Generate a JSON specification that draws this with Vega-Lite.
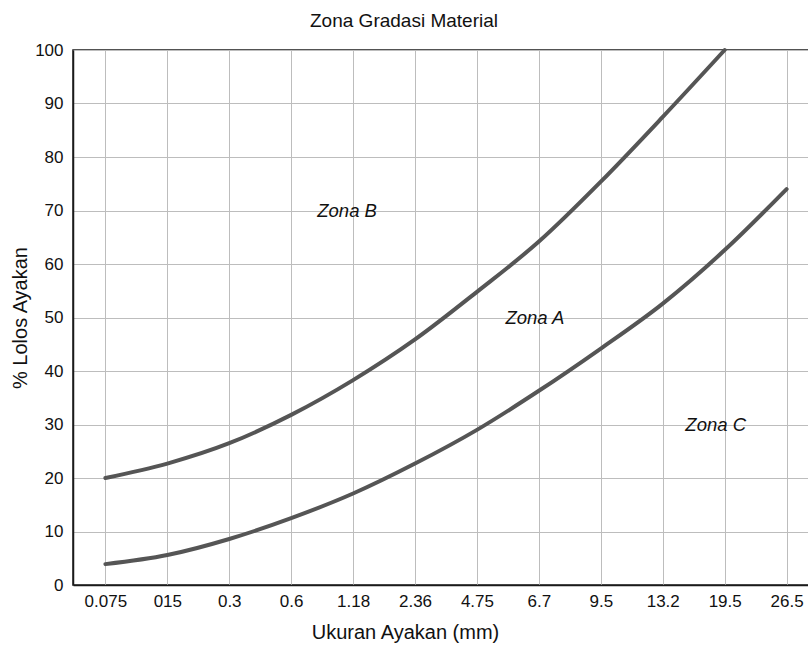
{
  "$schema": "https://vega.github.io/schema/vega-lite/v6.json",
  "width": 746,
  "height": 535,
  "autosize": {"type": "none"},
  "padding": {"left": 73, "top": 50, "right": 0, "bottom": 65},
  "background": "white",
  "config": {
    "font": "Liberation Sans",
    "view": {"stroke": "#1a1a1a", "strokeWidth": 1.5},
    "axis": {"labelFont": "Liberation Sans", "titleFont": "Liberation Sans", "labelColor": "#111", "titleColor": "#111", "titleFontWeight": "normal", "gridColor": "#bdbdbd", "gridWidth": 1, "ticks": false, "domainColor": "#1a1a1a", "domainWidth": 1.5}
  },
  "title": {"text": "Zona Gradasi Material", "fontSize": 19, "fontWeight": "normal", "font": "Liberation Sans", "color": "#111", "anchor": "middle", "dx": -42, "offset": 10},
  "datasets": {
    "curves": [
      {"ukuran": "0.075", "lolos": 20.0, "batas": "atas"},
      {"ukuran": "015", "lolos": 22.7, "batas": "atas"},
      {"ukuran": "0.3", "lolos": 26.5, "batas": "atas"},
      {"ukuran": "0.6", "lolos": 31.8, "batas": "atas"},
      {"ukuran": "1.18", "lolos": 38.3, "batas": "atas"},
      {"ukuran": "2.36", "lolos": 45.9, "batas": "atas"},
      {"ukuran": "4.75", "lolos": 54.8, "batas": "atas"},
      {"ukuran": "6.7", "lolos": 64.2, "batas": "atas"},
      {"ukuran": "9.5", "lolos": 75.4, "batas": "atas"},
      {"ukuran": "13.2", "lolos": 87.5, "batas": "atas"},
      {"ukuran": "19.5", "lolos": 100.0, "batas": "atas"},
      {"ukuran": "0.075", "lolos": 3.9, "batas": "bawah"},
      {"ukuran": "015", "lolos": 5.6, "batas": "bawah"},
      {"ukuran": "0.3", "lolos": 8.6, "batas": "bawah"},
      {"ukuran": "0.6", "lolos": 12.5, "batas": "bawah"},
      {"ukuran": "1.18", "lolos": 17.1, "batas": "bawah"},
      {"ukuran": "2.36", "lolos": 22.7, "batas": "bawah"},
      {"ukuran": "4.75", "lolos": 29.0, "batas": "bawah"},
      {"ukuran": "6.7", "lolos": 36.3, "batas": "bawah"},
      {"ukuran": "9.5", "lolos": 44.2, "batas": "bawah"},
      {"ukuran": "13.2", "lolos": 52.6, "batas": "bawah"},
      {"ukuran": "19.5", "lolos": 62.6, "batas": "bawah"},
      {"ukuran": "26.5", "lolos": 74.0, "batas": "bawah"}
    ],
    "zones": [
      {"ukuran": "1.18", "lolos": 70, "zona": "Zona B", "geser": -6},
      {"ukuran": "6.7", "lolos": 50, "zona": "Zona A", "geser": -4},
      {"ukuran": "19.5", "lolos": 30, "zona": "Zona C", "geser": -9}
    ]
  },
  "encoding": {
    "x": {
      "field": "ukuran", "type": "ordinal",
      "scale": {"type": "point", "padding": 0.523, "domain": ["0.075", "015", "0.3", "0.6", "1.18", "2.36", "4.75", "6.7", "9.5", "13.2", "19.5", "26.5"]},
      "axis": {"title": "Ukuran Ayakan (mm)", "labelAngle": 0, "labelFontSize": 17, "labelPadding": 8, "titleFontSize": 20, "titlePadding": 13, "titleX": 332, "grid": true}
    },
    "y": {
      "field": "lolos", "type": "quantitative",
      "scale": {"domain": [0, 100], "nice": false},
      "axis": {"title": "% Lolos Ayakan", "values": [0, 10, 20, 30, 40, 50, 60, 70, 80, 90, 100], "labelFontSize": 17, "labelPadding": 10, "titleFontSize": 20, "titlePadding": 4, "grid": true}
    }
  },
  "layer": [
    {
      "data": {"name": "curves"},
      "mark": {"type": "line", "interpolate": "monotone", "color": "#555555", "strokeWidth": 4, "strokeCap": "round"},
      "encoding": {"detail": {"field": "batas"}}
    },
    {
      "data": {"name": "zones"},
      "mark": {"type": "text", "fontSize": 18.5, "fontStyle": "italic", "color": "#111", "font": "Liberation Sans", "baseline": "middle", "align": "center"},
      "encoding": {"text": {"field": "zona"}, "xOffset": {"field": "geser", "type": "quantitative", "scale": null}}
    }
  ]
}
